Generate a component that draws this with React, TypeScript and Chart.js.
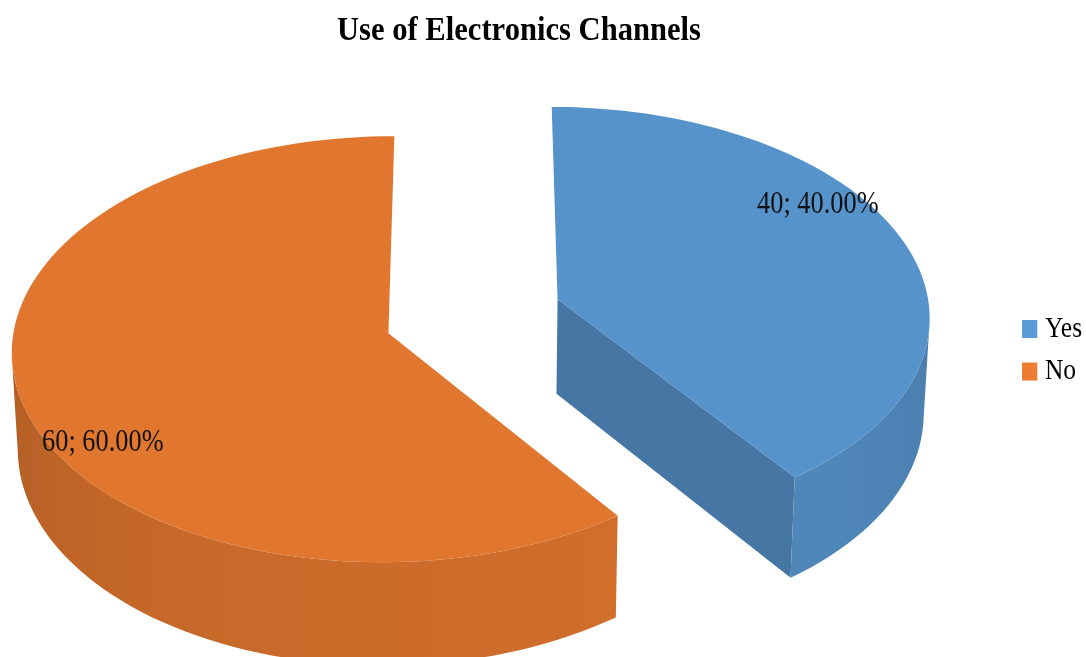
import React, { useEffect, useRef } from "react";
import { Chart, registerables } from "chart.js";

Chart.register(...registerables);

const chartTitle = "Use of Electronics Channels";
const categories = ["Yes", "No"];
const counts = [40, 60];
const sliceColors = ["#5B9BD5", "#ED7D31"];

// Tilted-disc projection of the pie
const CX = 473.5;
const CY = 317.6;
const RX = 373;
const RY = 209.5;
const TILT = 0.075;
const DEPTH = 95;
const BASE_SHRINK = 0.987;
const EXPLODE = 0.2385;
const SLICE_LIFT = [0.014, 0];
const TEXT_SQUEEZE = 0.85;
const TITLE_SQUEEZE = 0.927;
const TOP_SHADE = 0.95;
const INNER_SHADE = 0.77;
const WALL_SHADES = [
  [80, 0.79],
  [144, 0.88],
  [180, 0.86],
  [225, 0.82],
  [270, 0.74],
  [360, 0.7],
];
// Where each value label sits: share of the slice's sweep, and radius
const LABEL_SWEEP = [0.397, 0.423];
const LABEL_RADIUS = [0.875, 0.88];

type Pt = [number, number];

const topPoint = (u: number, v: number): Pt => {
  const w = 1 - TILT * v;
  return [CX + (RX * u) / w, CY + (RY * v) / w];
};
const basePoint = (u: number, v: number): Pt => {
  const w = 1 - TILT * v;
  return [CX + ((RX * u) / w) * BASE_SHRINK, CY + (RY * v) / w + DEPTH / w];
};

const shade = (hex: string, k: number) => {
  const n = parseInt(hex.slice(1), 16);
  const c = [(n >> 16) & 255, (n >> 8) & 255, n & 255].map((x) => Math.round(x * k));
  return `rgb(${c[0]},${c[1]},${c[2]})`;
};

const wallShade = (deg: number) => {
  const s = WALL_SHADES;
  if (deg <= s[0][0]) return s[0][1];
  for (let i = 1; i < s.length; i++) {
    if (deg <= s[i][0]) {
      const t = (deg - s[i - 1][0]) / (s[i][0] - s[i - 1][0]);
      return s[i - 1][1] + t * (s[i][1] - s[i - 1][1]);
    }
  }
  return s[s.length - 1][1];
};

const fillPoly = (ctx: CanvasRenderingContext2D, pts: Pt[], color: string | CanvasGradient) => {
  ctx.beginPath();
  pts.forEach((p, i) => (i ? ctx.lineTo(p[0], p[1]) : ctx.moveTo(p[0], p[1])));
  ctx.closePath();
  ctx.fillStyle = color;
  ctx.fill();
};

// Draws the pie's arc elements as exploded 3D wedges instead of flat arcs
const wedgePlugin = {
  id: "wedges",
  afterLayout(chart: any) {
    if (chart.$squeezed) return;
    chart.$squeezed = true;
    const title = chart.titleBlock;
    const drawTitle = title.draw.bind(title);
    title.draw = () => {
      const ctx = chart.ctx;
      ctx.save();
      ctx.translate(519 - TITLE_SQUEEZE * ((title.left + title.right) / 2), 0);
      ctx.scale(TITLE_SQUEEZE, 1);
      drawTitle();
      ctx.restore();
    };
    const legend = chart.legend;
    const drawLegend = legend.draw.bind(legend);
    legend.draw = () => {
      const ctx = chart.ctx;
      const hit = legend.legendHitBoxes[0];
      ctx.save();
      ctx.translate(1022 - TEXT_SQUEEZE * (hit.left - 6), 329 - (hit.top + hit.height / 2));
      ctx.scale(TEXT_SQUEEZE, 1);
      drawLegend();
      ctx.restore();
    };
  },
  beforeDatasetsDraw(chart: any) {
    const ctx: CanvasRenderingContext2D = chart.ctx;
    const arcs = chart.getDatasetMeta(0).data;
    const wedges = arcs.map((arc: any, i: number) => {
      const mid = (arc.startAngle + arc.endAngle) / 2;
      return {
        i,
        start: arc.startAngle,
        end: arc.endAngle,
        ou: Math.cos(mid) * EXPLODE,
        ov: Math.sin(mid) * EXPLODE - SLICE_LIFT[i],
        color: sliceColors[i],
      };
    });

    for (const w of wedges) {
      const steps = Math.ceil((w.end - w.start) / (Math.PI / 90));
      const rim: [number, number, number][] = [];
      for (let s = 0; s <= steps; s++) {
        const a = w.start + ((w.end - w.start) * s) / steps;
        rim.push([w.ou + Math.cos(a), w.ov + Math.sin(a), ((a + Math.PI / 2) * 180) / Math.PI]);
      }
      const rimXs = rim.map((r) => topPoint(r[0], r[1])[0]);

      // Flat wall along the cut that faces the viewer
      if (w.i === 0) {
        const last = rim[rim.length - 1];
        fillPoly(
          ctx,
          [
            topPoint(w.ou, w.ov),
            topPoint(last[0], last[1]),
            basePoint(last[0], last[1]),
            basePoint(w.ou, w.ov),
          ],
          shade(w.color, INNER_SHADE)
        );
      }

      // Curved outer wall: clockwise from the right silhouette, round the front,
      // to the left silhouette or the end of the slice
      const rightmost = rimXs.indexOf(Math.max(...rimXs));
      const leftmost = rimXs.indexOf(Math.min(...rimXs));
      const wall = rim.slice(rightmost, leftmost > rightmost ? leftmost + 1 : rim.length);
      const xs = wall.map((r) => topPoint(r[0], r[1])[0]);
      const xMin = Math.min(...xs);
      const xMax = Math.max(...xs);
      const grad = ctx.createLinearGradient(xMin, 0, xMax, 0);
      wall.forEach((r, k) => {
        if (k % 5 === 0) grad.addColorStop((xs[k] - xMin) / (xMax - xMin), shade(w.color, wallShade(r[2])));
      });
      fillPoly(
        ctx,
        [
          ...wall.map((r) => topPoint(r[0], r[1])),
          ...wall.slice().reverse().map((r) => basePoint(r[0], r[1])),
        ],
        grad
      );

      // Top face
      const face: Pt[] = [topPoint(w.ou, w.ov), ...rim.map((r) => topPoint(r[0], r[1]))];
      fillPoly(ctx, face, shade(w.color, TOP_SHADE));
    }

    // Value labels on the top faces
    const total = counts.reduce((a, b) => a + b, 0);
    ctx.fillStyle = "#111";
    ctx.font = "31px 'Liberation Serif'";
    ctx.textAlign = "center";
    ctx.textBaseline = "middle";
    for (const w of wedges) {
      const a = w.start + (w.end - w.start) * LABEL_SWEEP[w.i];
      const r = LABEL_RADIUS[w.i];
      const [x, y] = topPoint(w.ou + r * Math.cos(a), w.ov + r * Math.sin(a));
      const text = `${counts[w.i]}; ${((counts[w.i] / total) * 100).toFixed(2)}%`;
      ctx.save();
      ctx.translate(x, y);
      ctx.scale(TEXT_SQUEEZE, 1);
      ctx.fillText(text, 0, 0);
      ctx.restore();
    }
    return false;
  },
};

export default function App() {
  const ref = useRef<HTMLCanvasElement>(null);
  useEffect(() => {
    const chart = new Chart(ref.current!, {
      type: "pie",
      data: {
        labels: categories,
        datasets: [{ data: counts, backgroundColor: sliceColors, borderWidth: 0 }],
      },
      options: {
        responsive: false,
        animation: false,
        events: [],
        plugins: {
          title: {
            display: true,
            text: chartTitle,
            color: "#000",
            font: { family: "'Liberation Serif'", size: 33, weight: "bold" },
            padding: { top: 12, bottom: 10 },
          },
          legend: {
            position: "right",
            labels: {
              usePointStyle: true,
              pointStyle: "rect",
              boxWidth: 6,
              boxHeight: 18,
              padding: 12.5,
              color: "#000",
              font: { family: "'Liberation Serif'", size: 30 },
            },
          },
          tooltip: { enabled: false },
        },
      },
      plugins: [wedgePlugin],
    } as any);
    return () => chart.destroy();
  }, []);
  return (
    <div style={{ position: "absolute", left: 0, top: 0, width: 1086, height: 657, overflow: "hidden", background: "#fff" }}>
      <canvas ref={ref} width={1086} height={657} style={{ display: "block" }} />
    </div>
  );
}
